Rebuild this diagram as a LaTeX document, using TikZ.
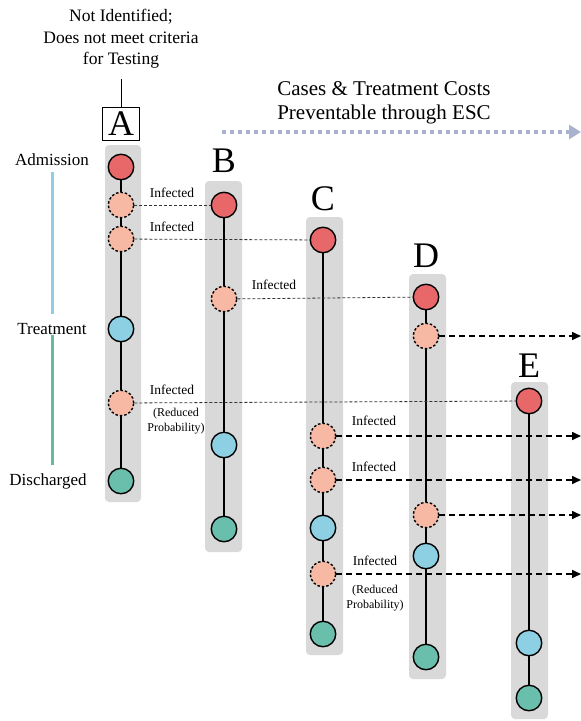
\documentclass[tikz,border=0pt]{standalone}
\usepackage{fontspec}
\setmainfont{Liberation Serif}
\usetikzlibrary{arrows.meta}
\definecolor{cred}{HTML}{E8686A}
\definecolor{cpink}{HTML}{F7B8A4}
\definecolor{cblue}{HTML}{8DD0E3}
\definecolor{cgreen}{HTML}{6ABEAC}
\definecolor{cgray}{HTML}{D9D9D9}
\definecolor{cbar}{HTML}{A9B3CF}
\definecolor{cbarblue}{HTML}{8DD0E3}
\definecolor{cbargreen}{HTML}{5FBE9F}
\tikzset{
  dot/.style={circle,draw=black,line width=1.4pt,minimum size=25.5pt,inner sep=0pt},
  adm/.style={dot,fill=cred},
  inf/.style={dot,fill=cpink,dash pattern=on 2.5pt off 2pt},
  trt/.style={dot,fill=cblue},
  dis/.style={dot,fill=cgreen},
  lane/.style={fill=cgray,rounded corners=4pt},
  vline/.style={line width=2.8pt},
  thin/.style={line width=0.8pt,dash pattern=on 3pt off 2pt,black!80},
  thick/.style={line width=1.6pt,dash pattern=on 6pt off 4pt,-{Triangle[length=9pt,width=8pt]}},
  big/.style={font=\fontsize{36}{36}\selectfont,inner sep=0pt},
  lbl/.style={font=\fontsize{13.5}{13.5}\selectfont,inner sep=0pt},
  small/.style={font=\fontsize{12}{14.5}\selectfont,inner sep=0pt,align=center},
  side/.style={font=\fontsize{17}{17}\selectfont,inner sep=0pt},
}
\begin{document}
\begin{tikzpicture}[x=1pt,y=-1pt]
\path[use as bounding box] (0,0) rectangle (581,721);
% lanes
\fill[lane] (105,145) rectangle (141,502);
\fill[lane] (205,181) rectangle (242,552);
\fill[lane] (306,217) rectangle (343,655);
\fill[lane] (409,274) rectangle (446,679);
\fill[lane] (511,382) rectangle (548,719);
% header
\node[font=\fontsize{17.5}{21.5}\selectfont,align=center,inner sep=0pt] (hdr) at (121,39) {Not Identified;\\Does not meet criteria\\for Testing};
\node[draw=black,line width=1.2pt,minimum width=37pt,minimum height=33pt,inner sep=0pt,font=\fontsize{36}{36}\selectfont] (A) at (121,124) {A};
\coordinate (hdrb) at (121,79);
\draw[line width=1pt] (A.north) -- (hdrb);
\node[big] (B) at (224,161) {B};
\node[big] (C) at (323,199) {C};
\node[big] (D) at (426,256) {D};
\node[big] (E) at (529,366) {E};
% top arrow
\node[font=\fontsize{21}{24}\selectfont,align=center,inner sep=0pt] (esc) at (384,103) {Cases \& Treatment Costs\\Preventable through ESC};
\coordinate (escL) at (222,132);
\coordinate (escR) at (581,132);
\draw[cbar,line width=4pt,dash pattern=on 4pt off 4pt,-{Triangle[length=12pt,width=14pt]}] (escL) -- (escR);
% side labels
\node[side] (adm) at (52,160) {Admission};
\node[side] (trt) at (52,329) {Treatment};
\node[side] (dis) at (48,481) {Discharged};
\coordinate (b1) at (52,172); \coordinate (b2) at (52,314);
\coordinate (g1) at (52,335); \coordinate (g2) at (52,465);
\draw[cbarblue,line width=3pt] (b1) -- (b2);
\draw[cbargreen,line width=3pt] (g1) -- (g2);
% column A
\node[adm] (a1) at (121,167) {};
\node[inf] (a2) at (121,205) {};
\node[inf] (a3) at (121,239) {};
\node[trt] (a4) at (121,329) {};
\node[inf] (a5) at (121,403) {};
\node[dis] (a6) at (121,481) {};
% column B
\node[adm] (b1n) at (224,205) {};
\node[inf] (b2n) at (224,299) {};
\node[trt] (b3n) at (224,445) {};
\node[dis] (b4n) at (224,529) {};
% column C
\node[adm] (c1) at (323,240) {};
\node[inf] (c2) at (323,436) {};
\node[inf] (c3) at (323,480) {};
\node[trt] (c4) at (323,528) {};
\node[inf] (c5) at (323,574) {};
\node[dis] (c6) at (323,634) {};
% column D
\node[adm] (d1) at (426,297) {};
\node[inf] (d2) at (426,336) {};
\node[inf] (d3) at (426,515) {};
\node[trt] (d4) at (426,556) {};
\node[dis] (d5) at (426,657) {};
% column E
\node[adm] (e1) at (529,401) {};
\node[trt] (e2) at (529,643) {};
\node[dis] (e3) at (529,698) {};
% vertical lines
\foreach \p/\q in {a1/a2,a2/a3,a3/a4,a4/a5,a5/a6,b1n/b2n,b2n/b3n,b3n/b4n,c1/c2,c2/c3,c3/c4,c4/c5,c5/c6,d1/d2,d2/d3,d3/d4,d4/d5,e1/e2,e2/e3}
  \draw[vline] (\p) -- (\q);
% thin dashed links
\draw[thin] (a2) -- (b1n);
\draw[thin] (a3) -- (c1);
\draw[thin] (b2n) -- (d1);
\draw[thin] (a5) -- (e1);
\node[lbl] (l1) at (172,193) {Infected};
\node[lbl] (l2) at (172,227) {Infected};
\node[lbl] (l3) at (274,285) {Infected};
\node[lbl] (l4) at (172,390) {Infected};
\node[small] (r1) at (176,421) {(Reduced\\Probability)};
% thick dashed arrows
\coordinate (t1) at (581,336);
\coordinate (t2) at (581,436);
\coordinate (t3) at (581,480);
\coordinate (t4) at (581,515);
\coordinate (t5) at (581,574);
\draw[thick] (d2) -- (t1);
\draw[thick] (c2) -- (t2);
\draw[thick] (c3) -- (t3);
\draw[thick] (d3) -- (t4);
\draw[thick] (c5) -- (t5);
\node[lbl] (l5) at (374,421) {Infected};
\node[lbl] (l6) at (374,467) {Infected};
\node[lbl] (l7) at (375,561) {Infected};
\node[small] (r2) at (375,598) {(Reduced\\Probability)};
\end{tikzpicture}
\end{document}
